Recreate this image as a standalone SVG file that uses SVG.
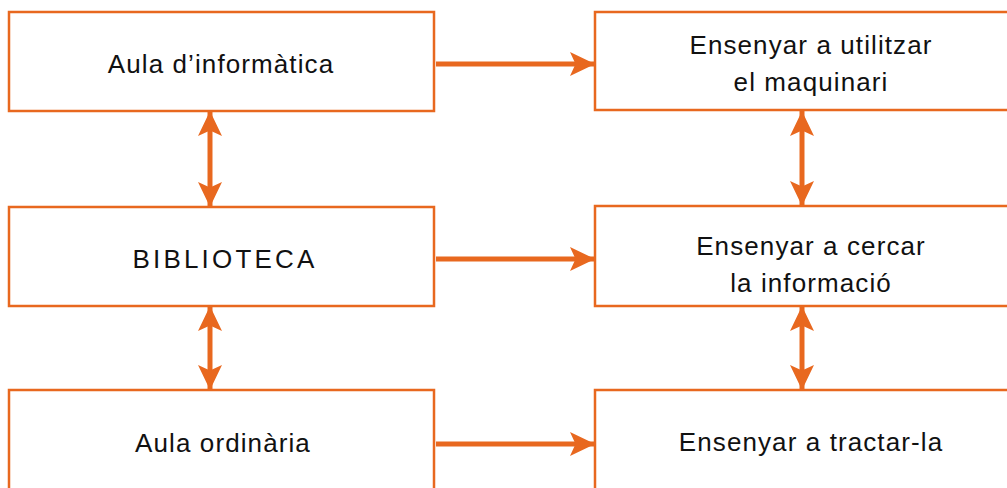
<svg xmlns="http://www.w3.org/2000/svg" width="1007" height="488" viewBox="0 0 1007 488">
<defs>
<style>
.box{fill:#fff;stroke:#E8681F;stroke-width:2.5}
.t{font-family:"Liberation Sans",Arial,sans-serif;font-size:26px;fill:#111;text-anchor:middle;letter-spacing:1.1px}
.c{stroke:#E8681F;stroke-width:5;fill:none}
</style>
<marker id="ah" viewBox="0 0 10 10" refX="10" refY="5" markerWidth="5" markerHeight="4.8" markerUnits="strokeWidth" orient="auto-start-reverse" preserveAspectRatio="none">
<path d="M0,0 L10,5 L0,10 L2.2,5 Z" fill="#E8681F"/>
</marker>
</defs>
<g id="connectors">
<line class="c" x1="436" y1="64" x2="595" y2="64" marker-end="url(#ah)"/>
<line class="c" x1="436" y1="259" x2="595" y2="259" marker-end="url(#ah)"/>
<line class="c" x1="436" y1="444" x2="595" y2="444" marker-end="url(#ah)"/>
<line class="c" x1="210" y1="111" x2="210" y2="207" marker-start="url(#ah)" marker-end="url(#ah)"/>
<line class="c" x1="210" y1="306" x2="210" y2="390" marker-start="url(#ah)" marker-end="url(#ah)"/>
<line class="c" x1="802" y1="111" x2="802" y2="206" marker-start="url(#ah)" marker-end="url(#ah)"/>
<line class="c" x1="802" y1="306" x2="802" y2="390" marker-start="url(#ah)" marker-end="url(#ah)"/>
</g>
<g id="n1"><rect class="box" x="9" y="12" width="425" height="99"/><text class="t" x="221" y="73">Aula d’informàtica</text></g>
<g id="n2"><rect class="box" x="9" y="207" width="425" height="99"/><text class="t" x="225" y="268" style="letter-spacing:3.2px">BIBLIOTECA</text></g>
<g id="n3"><rect class="box" x="9" y="390" width="425" height="110"/><text class="t" x="223" y="452">Aula ordinària</text></g>
<g id="n4"><rect class="box" x="595" y="12" width="432" height="98"/><text class="t" x="811" y="54">Ensenyar a utilitzar</text><text class="t" x="811" y="91">el maquinari</text></g>
<g id="n5"><rect class="box" x="595" y="206" width="432" height="100"/><text class="t" x="811" y="255">Ensenyar a cercar</text><text class="t" x="811" y="292">la informació</text></g>
<g id="n6"><rect class="box" x="595" y="390" width="432" height="110"/><text class="t" x="811" y="451">Ensenyar a tractar-la</text></g>
</svg>
